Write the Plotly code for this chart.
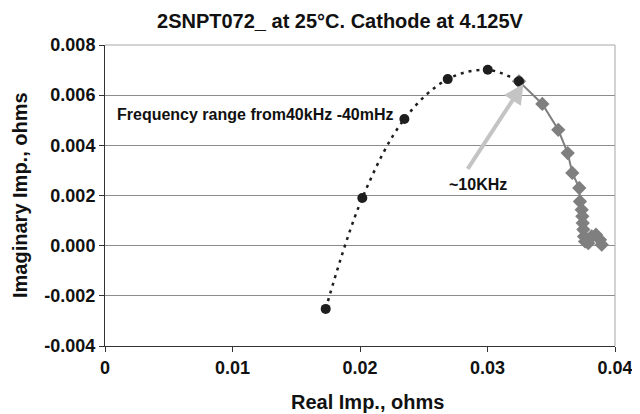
import plotly.graph_objects as go

# High-frequency semicircle points (black circles, dotted smoothed line)
hf_real = [0.01731, 0.02018, 0.02348, 0.02688, 0.03002, 0.03247]
hf_imag = [-0.00252, 0.00190, 0.00505, 0.00664, 0.00701, 0.00655]

# Low-frequency points (grey diamonds, solid line)
lf_real = [0.03247, 0.03430, 0.03555, 0.03629, 0.03665, 0.03720, 0.03725, 0.03739,
           0.03744, 0.03747, 0.03752, 0.03757, 0.03765, 0.03790, 0.03817, 0.03851,
           0.03882, 0.03896]
lf_imag = [0.00655, 0.00565, 0.00462, 0.00369, 0.00290, 0.00230, 0.00176, 0.00143,
           0.00117, 0.00090, 0.00064, 0.00037, 0.00017, 0.00010, 0.00037, 0.00044,
           0.00024, 0.00004]

x_tickvals = [0, 0.01, 0.02, 0.03, 0.04]
x_ticktext = ["0", "0.01", "0.02", "0.03", "0.04"]
y_tickvals = [-0.004, -0.002, 0.0, 0.002, 0.004, 0.006, 0.008]
y_ticktext = ["-0.004", "-0.002", "0.000", "0.002", "0.004", "0.006", "0.008"]

FONT = "Liberation Sans, Arial, Helvetica, sans-serif"
TXT = "#111111"

fig = go.Figure()

fig.add_trace(go.Scatter(
    x=lf_real, y=lf_imag, mode="lines+markers",
    line=dict(color="#7f7f7f", width=2),
    marker=dict(symbol="diamond", size=11, color="#7f7f7f"),
    showlegend=False, hoverinfo="skip"))

fig.add_trace(go.Scatter(
    x=hf_real, y=hf_imag, mode="lines+markers",
    line=dict(color="#1e1e1e", width=2.5, dash="3px,5px", shape="spline", smoothing=1.0),
    marker=dict(symbol="circle", size=10, color="#1e1e1e"),
    showlegend=False, hoverinfo="skip"))

# Arrow pointing at ~10KHz point
fig.add_annotation(
    x=0.03282, y=0.00646, ax=0.02837, ay=0.00300,
    xref="x", yref="y", axref="x", ayref="y",
    text="", showarrow=True, arrowhead=2, arrowsize=1.0, arrowwidth=4,
    arrowcolor="#c4c4c4", standoff=0)

fig.add_annotation(
    x=0.02929, y=0.00243, xref="x", yref="y", text="~10KHz", showarrow=False,
    font=dict(family=FONT, size=16, color=TXT, weight="bold"))

fig.add_annotation(
    x=0.00078, y=0.00522, xref="x", yref="y", xanchor="left",
    text="Frequency range from40kHz -40mHz", showarrow=False,
    font=dict(family=FONT, size=16, color=TXT, weight="bold"))

# Axis titles
fig.add_annotation(
    x=0.514, y=-0.186, xref="paper", yref="paper", xanchor="center", yanchor="middle",
    text="Real Imp., ohms", showarrow=False,
    font=dict(family=FONT, size=20, color=TXT, weight="bold"))
fig.add_annotation(
    x=-0.1667, y=0.5017, xref="paper", yref="paper", xanchor="center", yanchor="middle",
    text="Imaginary Imp., ohms", showarrow=False, textangle=-90,
    font=dict(family=FONT, size=20, color=TXT, weight="bold"))

# The page places the figure 8px in from the top-left corner, so the
# figure is sized and offset to land the plot area where the reference has it.
fig.update_layout(
    width=632, height=406,
    margin=dict(l=97, r=25, t=37, b=68),
    paper_bgcolor="white", plot_bgcolor="white",
    title=dict(text="2SNPT072_ at 25°C. Cathode at 4.125V",
               x=0.5253, xanchor="center", y=0.968, yanchor="middle",
               font=dict(family=FONT, size=20, color=TXT, weight="bold")),
    font=dict(family=FONT, color=TXT),
)

fig.update_xaxes(
    range=[0, 0.04], tickvals=x_tickvals, ticktext=x_ticktext,
    showgrid=False, zeroline=False, automargin=False,
    showline=True, linecolor="#333333", linewidth=1, mirror=False,
    ticks="outside", ticklen=5, tickcolor="#333333",
    tickfont=dict(family=FONT, size=18, color=TXT, weight="bold"))

fig.update_yaxes(
    range=[-0.004, 0.008], tickvals=y_tickvals, ticktext=y_ticktext,
    showgrid=True, gridcolor="#8c8c8c", gridwidth=1, zeroline=False, automargin=False,
    showline=True, linecolor="#333333", linewidth=1, mirror=False,
    ticks="outside", ticklen=5, tickcolor="#333333",
    tickfont=dict(family=FONT, size=18, color=TXT, weight="bold"))

# light grey top/right border of plot area
fig.add_shape(type="line", xref="paper", yref="paper", x0=0, x1=1, y0=1, y1=1,
              line=dict(color="#a6a6a6", width=1))
fig.add_shape(type="line", xref="paper", yref="paper", x0=1, x1=1, y0=0, y1=1,
              line=dict(color="#a6a6a6", width=1))

fig.write_html("out.html")
